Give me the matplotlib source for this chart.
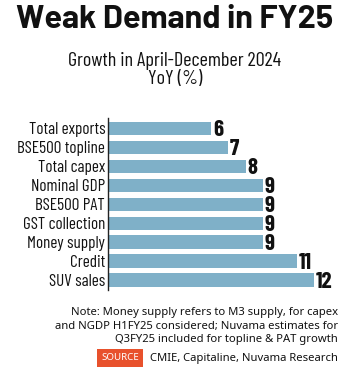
import matplotlib as mpl
import matplotlib.pyplot as plt

# data
categories = ['Total exports', 'BSE500 topline', 'Total capex', 'Nominal GDP',
              'BSE500 PAT', 'GST collection', 'Money supply', 'Credit', 'SUV sales']
values = [6, 7, 8, 9, 9, 9, 9, 11, 12]

TITLE = 'Weak Demand in FY25'
SUBTITLE = 'Growth in April-December 2024\nYoY (%)'
NOTE = ('Note: Money supply refers to M3 supply, for capex\n'
        'and NGDP H1FY25 considered; Nuvama estimates for\n'
        'Q3FY25 included for topline & PAT growth')
SOURCE = 'CMIE, Capitaline, Nuvama Research'

C_BAR = '#7fb0c8'
C_TEXT = '#111111'
C_SRC = '#e8512c'

F_HEAD = ['Barlow', 'Roboto', 'DejaVu Sans']
F_COND = ['Barlow Condensed', 'Roboto', 'DejaVu Sans']
F_NOTE = ['Noto Sans', 'DejaVu Sans']

W, H = 350, 368
fig = plt.figure(figsize=(W / 100, H / 100), dpi=100)
fig.patch.set_facecolor('white')

def fx(px):
    return px / W

def fy(py):
    return 1 - py / H

# ── titles ────────────────────────────────────────────────────────────────────
fig.text(0.5, fy(19), TITLE, ha='center', va='center', fontsize=23.3,
         weight='bold', family=F_HEAD, color=C_TEXT)
fig.text(0.5, fy(70), SUBTITLE, ha='center', va='center', fontsize=14.5,
         family=F_COND, color=C_TEXT, linespacing=1.05)

# ── bars ──────────────────────────────────────────────────────────────────────
x0, x1 = 108, 340
top, bot = 118, 290
ax = fig.add_axes([fx(x0), fy(bot), fx(x1 - x0), (bot - top) / H])
pos = list(range(len(categories)))
ax.barh(pos, values, height=0.7, color=C_BAR, zorder=2)
ax.set_xlim(0, (x1 - x0) / 17.2)
ax.set_ylim(8.53, -0.55)
ax.set_yticks(pos)
ax.set_yticklabels(categories, family=F_COND, fontsize=12.3, color=C_TEXT)
ax.tick_params(axis='y', length=0, pad=2)
ax.set_xticks([])
for s in ['top', 'right', 'bottom']:
    ax.spines[s].set_visible(False)
ax.spines['left'].set_color('#222222')
ax.spines['left'].set_linewidth(1.0)

for p, v in zip(pos, values):
    ax.text(v + 0.1, p + 0.1, str(v), va='center', ha='left', fontsize=16.5,
            weight='bold', family=F_COND, color=C_TEXT)

# ── note & source ─────────────────────────────────────────────────────────────
fig.text(fx(338), fy(326), NOTE, ha='right', va='center', fontsize=8.1,
         family=F_NOTE, color=C_TEXT, linespacing=1.3)
fig.text(fx(338), fy(359), SOURCE, ha='right', va='center', fontsize=8.1,
         family=F_NOTE, color=C_TEXT)
fig.text(fx(120), fy(358), 'SOURCE', ha='center', va='center', fontsize=7,
         family=F_NOTE, weight='medium', color='white',
         bbox=dict(boxstyle='square,pad=0.45', facecolor=C_SRC, edgecolor='none'))

fig.savefig('out.png', dpi=100)
